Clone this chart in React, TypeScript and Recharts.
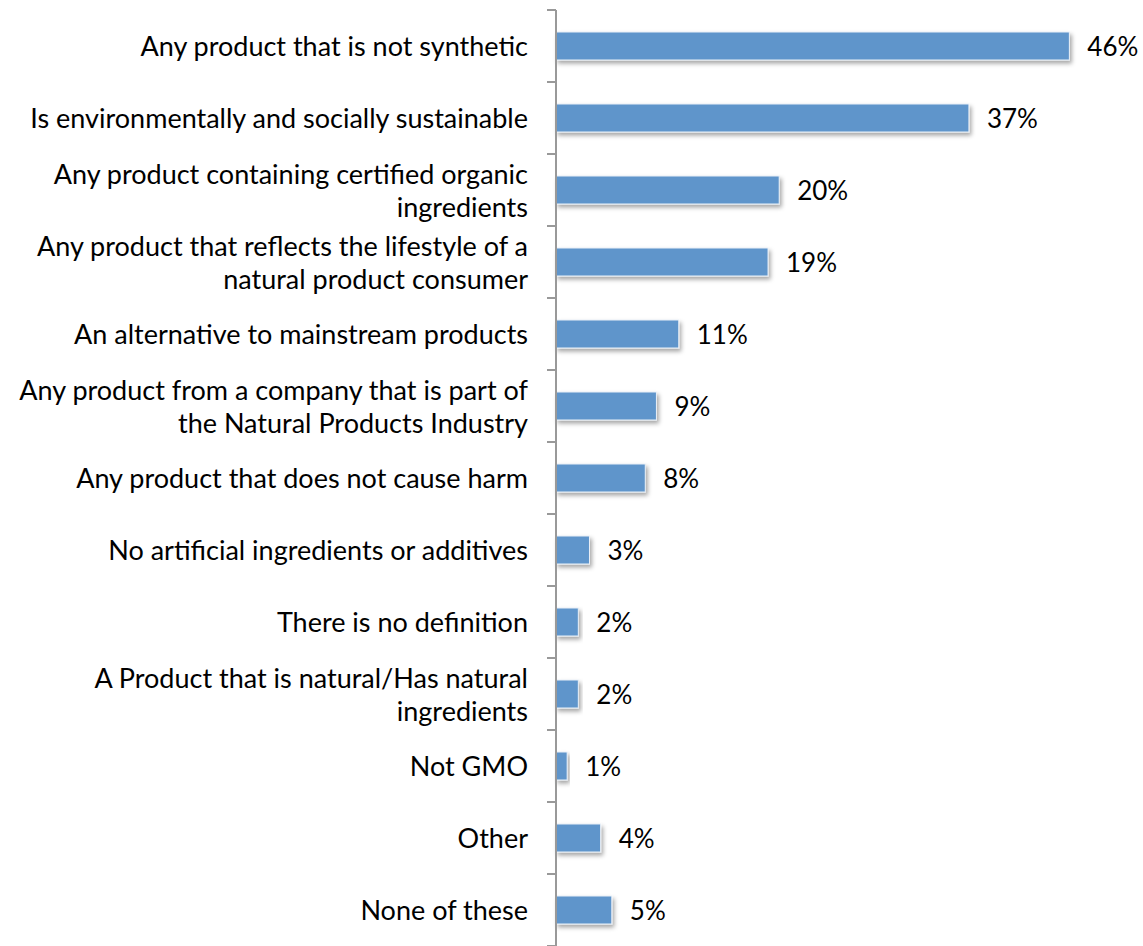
import React from "react";
import { BarChart, Bar, XAxis, YAxis, LabelList } from "recharts";

const categories: string[] = [
  "Any product that is not synthetic",
  "Is environmentally and socially sustainable",
  "Any product containing certified organic\ningredients",
  "Any product that reflects the lifestyle of a\nnatural product consumer",
  "An alternative to mainstream products",
  "Any product from a company that is part of\nthe Natural Products Industry",
  "Any product that does not cause harm",
  "No artificial ingredients or additives",
  "There is no definition",
  "A Product that is natural/Has natural\ningredients",
  "Not GMO",
  "Other",
  "None of these",
];

const values: number[] = [46, 37, 20, 19, 11, 9, 8, 3, 2, 2, 1, 4, 5];

const data = categories.map((c, i) => ({ name: c, value: values[i] }));

const W = 1143;
const H = 946;
const TOP = 10;
const AXIS_W = 556;
const TICK_SIZE = 9;
const TICK_MARGIN = 19;
const BAND = (H - TOP) / categories.length;
const FONT = "Lato, 'Open Sans', sans-serif";
const FS = 27;
const LINE_H = 33;

const CustomTick = (props: any) => {
  const { x, y, payload, index } = props;
  const lines: string[] = String(payload.value).split("\n");
  const lx1 = x + TICK_MARGIN;
  const lx2 = x + TICK_MARGIN + TICK_SIZE;
  const startDy = -((lines.length - 1) * LINE_H) / 2 + 10;
  return (
    <g>
      <line x1={lx1} x2={lx2} y1={y - BAND / 2} y2={y - BAND / 2} stroke="#999" strokeWidth={2} />
      {index === categories.length - 1 && (
        <line x1={lx1} x2={lx2} y1={y + BAND / 2} y2={y + BAND / 2} stroke="#999" strokeWidth={2} />
      )}
      <text x={x} y={y} textAnchor="end" fontFamily={FONT} fontSize={FS} fill="#000">
        {lines.map((l, i) => (
          <tspan key={i} x={x} dy={i === 0 ? startDy : LINE_H}>
            {l}
          </tspan>
        ))}
      </text>
    </g>
  );
};

const ShadowBar = (props: any) => {
  const { x, y, width, height } = props;
  return (
    <rect
      x={x}
      y={y}
      width={Math.max(width, 0)}
      height={height}
      fill="#5F95CB"
      stroke="#EAF0F7"
      strokeWidth={1}
      filter="url(#barShadow)"
    />
  );
};

const ValueLabel = (props: any) => {
  const { x, y, width, height, value } = props;
  return (
    <text
      x={x + width + 18}
      y={y + height / 2 + 10}
      fontFamily={FONT}
      fontSize={FS - 1}
      fill="#000"
      textAnchor="start"
    >
      {`${value}%`}
    </text>
  );
};

export default function App() {
  return (
    <div style={{ position: "absolute", left: 0, top: 0, width: W, height: H, background: "#fff" }}>
      <BarChart
        width={W}
        height={H}
        data={data}
        layout="vertical"
        margin={{ top: TOP, right: 29, bottom: 0, left: 0 }}
        barSize={28}
      >
        <defs>
          <filter id="barShadow" x="-10%" y="-30%" width="130%" height="180%">
            <feDropShadow dx="2" dy="3" stdDeviation="2" floodColor="#000" floodOpacity="0.35" />
          </filter>
        </defs>
        <XAxis type="number" domain={[0, 50]} hide />
        <YAxis
          type="category"
          dataKey="name"
          width={AXIS_W}
          interval={0}
          tickSize={TICK_SIZE}
          tickMargin={TICK_MARGIN}
          tickLine={false}
          axisLine={{ stroke: "#999", strokeWidth: 2 }}
          tick={<CustomTick />}
        />
        <Bar dataKey="value" isAnimationActive={false} shape={<ShadowBar />}>
          <LabelList dataKey="value" content={<ValueLabel />} />
        </Bar>
      </BarChart>
    </div>
  );
}
